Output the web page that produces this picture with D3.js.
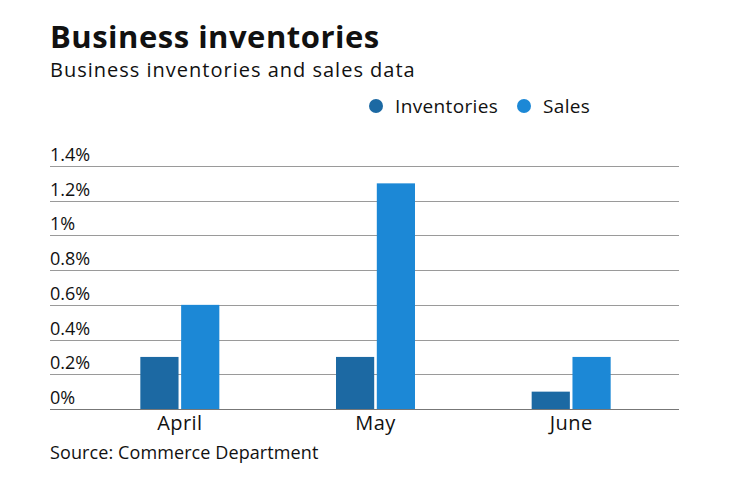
<!DOCTYPE html>
<html><head><meta charset="utf-8">
<script src="https://cdn.jsdelivr.net/npm/d3@7"></script>
<style>body{margin:0;background:#fff}svg{display:block}text{font-family:"Open Sans",sans-serif}</style>
</head><body>
<svg id="c" width="740" height="482"></svg>
<script>
const categories = ["April", "May", "June"];
const seriesNames = ["Inventories", "Sales"];
const inventories = [0.3, 0.3, 0.1];
const sales = [0.6, 1.3, 0.3];
const yTicks = [0, 0.2, 0.4, 0.6, 0.8, 1, 1.2, 1.4];
const colors = ["#1c69a3", "#1c88d6"];

(function () {
const svg = d3.select("#c");
const pLeft = 50, pRight = 679, pTop = 166, pBottom = 409;
const y = d3.scaleLinear().domain([0, 1.4]).range([pBottom, pTop]);
const x = d3.scaleBand().domain(categories).range([82, 669]).padding(0);
const xs = d3.scaleBand().domain(seriesNames).range([0, 79]).paddingInner(0.064);

svg.append("text").attr("x", 50).attr("y", 48).attr("font-size", 31).attr("font-weight", 700).attr("letter-spacing", 0.5).attr("fill", "#111").text("Business inventories");
svg.append("text").attr("x", 50).attr("y", 77).attr("font-size", 20).attr("letter-spacing", 1).attr("fill", "#111").text("Business inventories and sales data");

const leg = [{n: seriesNames[0], cx: 376, tx: 395}, {n: seriesNames[1], cx: 524, tx: 543}];
leg.forEach((d, i) => {
  svg.append("circle").attr("cx", d.cx).attr("cy", 106).attr("r", 7).attr("fill", colors[i]);
  svg.append("text").attr("x", d.tx).attr("y", 113).attr("font-size", 19).attr("letter-spacing", 0.35).attr("fill", "#111").text(d.n);
});

const g = svg.append("g");
g.selectAll("line.grid").data(yTicks).join("line")
  .attr("x1", pLeft).attr("x2", pRight)
  .attr("y1", d => Math.round(y(d)) + 0.5).attr("y2", d => Math.round(y(d)) + 0.5)
  .attr("stroke", d => d === 0 ? "#777" : "#9a9a9a").attr("stroke-width", 1);
g.selectAll("text.tick").data(yTicks).join("text")
  .attr("x", pLeft).attr("y", d => y(d) - 5)
  .attr("font-size", 18).attr("fill", "#111")
  .text(d => d3.format("~g")(+d.toFixed(1)) + "%");

const vals = [inventories, sales];
categories.forEach((c, ci) => {
  const grp = svg.append("g").attr("transform", `translate(${x(c) + x.bandwidth() / 2 - 39.5},0)`);
  seriesNames.forEach((s, si) => {
    grp.append("rect").attr("x", xs(s)).attr("width", xs.bandwidth())
      .attr("y", y(vals[si][ci])).attr("height", y(0) - y(vals[si][ci]))
      .attr("fill", colors[si]);
  });
});

svg.selectAll("text.xl").data(categories).join("text")
  .attr("x", d => x(d) + x.bandwidth() / 2).attr("y", 430)
  .attr("text-anchor", "middle").attr("font-size", 20).attr("letter-spacing", 0.4).attr("fill", "#111").text(d => d);

svg.append("text").attr("x", 50).attr("y", 459).attr("font-size", 18).attr("letter-spacing", 0.1).attr("fill", "#111").text("Source: Commerce Department");
})();
</script>
</body></html>
